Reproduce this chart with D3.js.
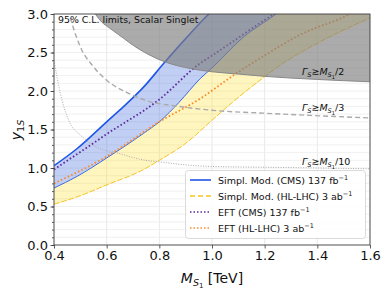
<!DOCTYPE html>
<html>
<head>
<meta charset="utf-8">
<script src="https://cdn.jsdelivr.net/npm/d3@7"></script>
<style>
  body { margin: 0; background: #fff; }
  svg { font-family: "DejaVu Sans", sans-serif; }
</style>
</head>
<body>
<script>
// curves: [M_S1 (TeV), y_1S]
var cmsUpper = [[0.4,1.03],[0.487,1.25],[0.6,1.6],[0.665,1.8],[0.74,2.05],[0.817,2.36],[0.9,2.68],[0.988,3.0],[1.02,3.1]];
var cmsLower = [[0.4,0.74],[0.487,0.89],[0.6,1.13],[0.74,1.45],[0.8,1.6],[0.874,1.85],[0.955,2.16],[1.0,2.3],[1.119,2.7],[1.243,3.0],[1.28,3.1]];
var hlLower = [[0.4,0.53],[0.5,0.64],[0.6,0.78],[0.74,0.98],[0.8,1.1],[0.9,1.32],[1.0,1.62],[1.08,1.86],[1.19,2.16],[1.265,2.35],[1.4,2.62],[1.6,2.95]];
var eftCms = [[0.4,0.98],[0.557,1.34],[0.6,1.44],[0.8,1.89],[0.955,2.36],[1.0,2.46],[1.236,3.0],[1.26,3.05]];
var eftHl = [[0.4,0.8],[0.6,1.15],[0.8,1.6],[0.955,1.9],[1.08,2.2],[1.208,2.48],[1.334,2.73],[1.524,3.0],[1.55,3.05]];
var width2 = [[0.557,3.0],[0.58,2.9],[0.61,2.82],[0.646,2.73],[0.72,2.55],[0.82,2.38],[0.92,2.29],[1.0,2.25],[1.1,2.22],[1.2,2.19],[1.4,2.15],[1.6,2.12]];
var width3 = [[0.462,2.95],[0.468,2.88],[0.506,2.53],[0.544,2.34],[0.6,2.14],[0.671,1.99],[0.747,1.88],[0.874,1.8],[1.0,1.75],[1.21,1.71],[1.6,1.65]];
var width10 = [[0.4,2.4],[0.424,1.97],[0.456,1.62],[0.506,1.41],[0.557,1.28],[0.646,1.19],[0.747,1.1],[0.8,1.08],[0.9,1.04],[1.0,1.02],[1.2,1.01],[1.6,0.99]];

var xTicks = [0.4, 0.6, 0.8, 1.0, 1.2, 1.4, 1.6];
var yTicks = [0.0, 0.5, 1.0, 1.5, 2.0, 2.5, 3.0];
var yMinor = d3.range(0, 30.5, 1).map(function(d) { return d / 10; });

var legendItems = [
  {label: "Simpl. Mod. (CMS) 137 fb", sup: "\u22121", color: "#1f56e6", dash: null, w: 1.6},
  {label: "Simpl. Mod. (HL-LHC) 3 ab", sup: "\u22121", color: "#f7c325", dash: "5,3", w: 1.4},
  {label: "EFT (CMS) 137 fb", sup: "\u22121", color: "#5b2a9e", dash: "1.5,2", w: 1.6},
  {label: "EFT (HL-LHC) 3 ab", sup: "\u22121", color: "#f98a2c", dash: "1.5,2", w: 1.6}
];

var W = 390, H = 293;
var mLeft = 54, mRight = 370, mTop = 14, mBottom = 245;

var svg = d3.select("body").append("svg")
    .attr("width", W)
    .attr("height", H);

var x = d3.scaleLinear().domain([0.4, 1.6]).range([mLeft, mRight]);
var y = d3.scaleLinear().domain([0, 3]).range([mBottom, mTop]);

svg.append("clipPath").attr("id", "plot")
  .append("rect")
    .attr("x", mLeft).attr("y", mTop)
    .attr("width", mRight - mLeft).attr("height", mBottom - mTop);

// grid: vertical at major x ticks, horizontal at every 0.1
var grid = svg.append("g");
grid.selectAll(".vg").data(xTicks).enter().append("line")
    .attr("x1", function(d) { return x(d); })
    .attr("x2", function(d) { return x(d); })
    .attr("y1", mTop).attr("y2", mBottom)
    .style("stroke", "#e3e3e3").style("stroke-width", 0.8);
grid.selectAll(".hg").data(yMinor).enter().append("line")
    .attr("x1", mLeft).attr("x2", mRight)
    .attr("y1", function(d) { return y(d); })
    .attr("y2", function(d) { return y(d); })
    .style("stroke", "#ececec").style("stroke-width", 0.8);

var plot = svg.append("g").attr("clip-path", "url(#plot)");

var line = d3.line()
    .x(function(d) { return x(d[0]); })
    .y(function(d) { return y(d[1]); })
    .curve(d3.curveMonotoneX);

// band between two curves sampled on a common grid
function band(lo, hi) {
  var loF = d3.scaleLinear().domain(lo.map(function(d) { return d[0]; })).range(lo.map(function(d) { return d[1]; }));
  var hiF = d3.scaleLinear().domain(hi.map(function(d) { return d[0]; })).range(hi.map(function(d) { return d[1]; }));
  var xs = d3.merge([lo.map(function(d) { return d[0]; }), hi.map(function(d) { return d[0]; })])
      .filter(function(v) { return v >= 0.4 && v <= 1.6; });
  xs = Array.from(new Set(xs)).sort(d3.ascending);
  return d3.area()
      .x(function(d) { return x(d); })
      .y0(function(d) { return y(loF(d)); })
      .y1(function(d) { return y(Math.max(hiF(d), loF(d))); })(xs);
}

plot.append("path")
    .attr("d", band(hlLower, cmsLower.concat([[1.6, 4.5]])))
    .style("fill", "#ffd700").style("fill-opacity", 0.25);
plot.append("path")
    .attr("d", band(cmsLower, cmsUpper.concat([[1.6, 6]])))
    .style("fill", "#4169e1").style("fill-opacity", 0.32);

// band edges
plot.append("path").attr("d", line(hlLower))
    .style("fill", "none").style("stroke", "#f7c325").style("stroke-width", 1)
    .style("stroke-dasharray", "6,1.5");
plot.append("path").attr("d", line(cmsLower))
    .style("fill", "none").style("stroke", "#3a6ae0").style("stroke-width", 1);
plot.append("path").attr("d", line(cmsUpper))
    .style("fill", "none").style("stroke", "#1f56e6").style("stroke-width", 1.6);

// EFT limits
plot.append("path").attr("d", line(eftCms))
    .style("fill", "none").style("stroke", "#5b2a9e").style("stroke-width", 1.8)
    .style("stroke-dasharray", "1.6,2.2");
plot.append("path").attr("d", line(eftHl))
    .style("fill", "none").style("stroke", "#f98a2c").style("stroke-width", 1.8)
    .style("stroke-dasharray", "1.6,2.2");

// width contours
plot.append("path").attr("d", line(width3))
    .style("fill", "none").style("stroke", "#aaaaaa").style("stroke-width", 1.4)
    .style("stroke-dasharray", "5,3");
plot.append("path").attr("d", line(width10))
    .style("fill", "none").style("stroke", "#aaaaaa").style("stroke-width", 1)
    .style("stroke-dasharray", "1,1.5");

var grayArea = d3.area()
    .x(function(d) { return x(d[0]); })
    .y0(y(3.2))
    .y1(function(d) { return y(d[1]); })
    .curve(d3.curveMonotoneX);
plot.append("path").attr("d", grayArea(width2.concat([[1.65, 2.11]])))
    .style("fill", "#808080").style("fill-opacity", 0.66);
plot.append("path").attr("d", line(width2))
    .style("fill", "none").style("stroke", "#888").style("stroke-width", 1);

// width labels
function gammaLabel(ypos, frac) {
  var t = svg.append("text")
      .attr("x", 302).attr("y", ypos)
      .style("font-size", "9.5px").style("fill", "#111");
  t.append("tspan").style("font-style", "italic").text("\u0393");
  t.append("tspan").attr("dy", 2).style("font-size", "6.5px").style("font-style", "italic").text("S");
  t.append("tspan").attr("dy", -2).text("\u2273");
  t.append("tspan").style("font-style", "italic").text("M");
  t.append("tspan").attr("dy", 2).style("font-size", "6.5px").style("font-style", "italic").text("S");
  t.append("tspan").attr("dy", 1.5).style("font-size", "5px").text("1");
  t.append("tspan").attr("dy", -3.5).text("/" + frac);
}
gammaLabel(75, "2");
gammaLabel(111, "3");
gammaLabel(165, "10");

// axes
var yAxis = d3.axisLeft(y).tickValues(yTicks).tickFormat(d3.format(".1f"))
    .tickSize(3.5).tickPadding(2.5);
var yAxisMinor = d3.axisLeft(y).tickValues(yMinor).tickFormat("").tickSize(2);
var xAxis = d3.axisBottom(x).tickValues(xTicks).tickFormat(d3.format(".1f"))
    .tickSize(3.5).tickPadding(2.5);

svg.append("g").attr("transform", "translate(" + mLeft + ",0)").call(yAxisMinor);
svg.append("g").attr("transform", "translate(" + mLeft + ",0)").call(yAxis);
svg.append("g").attr("transform", "translate(0," + mBottom + ")").call(xAxis);
svg.selectAll(".domain").remove();
svg.selectAll(".tick line").style("stroke", "#333").style("stroke-width", 0.8);
svg.selectAll(".tick text").style("font-size", "13px").style("fill", "#111")
    .style("font-family", "DejaVu Sans, sans-serif");

svg.append("rect")
    .attr("x", mLeft).attr("y", mTop)
    .attr("width", mRight - mLeft).attr("height", mBottom - mTop)
    .style("fill", "none").style("stroke", "#444").style("stroke-width", 0.9);

// annotation
svg.append("text")
    .attr("x", 58).attr("y", 22.5)
    .style("font-size", "9.4px").style("fill", "#111")
    .text("95% C.L. limits, Scalar Singlet");

// axis labels
var xl = svg.append("text")
    .attr("x", 212).attr("y", 283)
    .attr("text-anchor", "middle")
    .style("font-size", "14px").style("fill", "#111");
xl.append("tspan").style("font-style", "italic").text("M");
xl.append("tspan").attr("dy", 3).style("font-size", "9.5px").style("font-style", "italic").text("S");
xl.append("tspan").attr("dy", 2).style("font-size", "7px").text("1");
xl.append("tspan").attr("dy", -5).text(" [TeV]");

var yl = svg.append("text")
    .attr("transform", "translate(21,130) rotate(-90)")
    .attr("text-anchor", "middle")
    .style("font-size", "14px").style("fill", "#111");
yl.append("tspan").style("font-style", "italic").text("y");
yl.append("tspan").attr("dy", 3).style("font-size", "9.5px").text("1");
yl.append("tspan").style("font-size", "9.5px").style("font-style", "italic").text("S");

// legend
var lg = svg.append("g");
lg.append("rect")
    .attr("x", 185.5).attr("y", 170.5).attr("width", 180).attr("height", 68)
    .attr("rx", 3)
    .style("fill", "#fff").style("fill-opacity", 0.85)
    .style("stroke", "#d0d0d0").style("stroke-width", 0.8);
var rows = lg.selectAll(".row").data(legendItems).enter().append("g")
    .attr("transform", function(d, i) { return "translate(0," + (180 + i * 16) + ")"; });
rows.append("line")
    .attr("x1", 190).attr("x2", 211).attr("y1", 0).attr("y2", 0)
    .style("stroke", function(d) { return d.color; })
    .style("stroke-width", function(d) { return d.w; })
    .style("stroke-dasharray", function(d) { return d.dash; });
var lt = rows.append("text")
    .attr("x", 218).attr("y", 3.5)
    .style("font-size", "9.5px").style("fill", "#111");
lt.append("tspan").text(function(d) { return d.label; });
lt.append("tspan").attr("dy", -3.5).style("font-size", "6.5px").text(function(d) { return d.sup; });
</script>
</body>
</html>
